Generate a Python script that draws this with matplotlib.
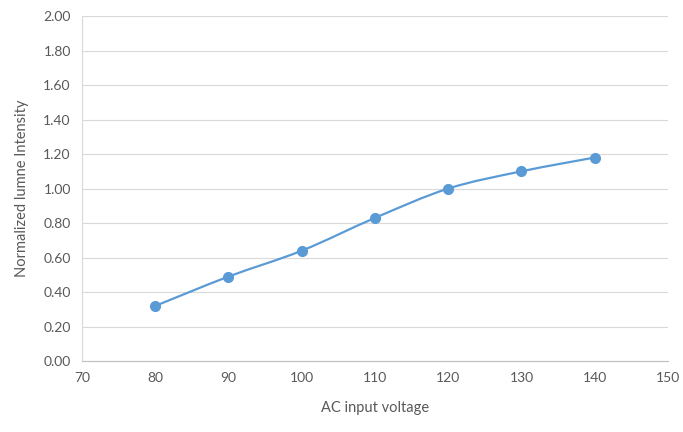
import numpy as np
import matplotlib.pyplot as plt
from matplotlib.path import Path
from matplotlib.patches import PathPatch

# values
voltage = [80, 90, 100, 110, 120, 130, 140]
intensity = [0.32, 0.49, 0.64, 0.83, 1.00, 1.10, 1.18]

blue = '#5B9BD5'
grey = '#595959'

plt.rcParams['font.family'] = ['Lato', 'DejaVu Sans']

fig = plt.figure(figsize=(6.83, 4.32), dpi=100)
ax = fig.add_axes([0.12, 0.164, 0.858, 0.799])

# Excel-like smoothed line: Catmull-Rom segments drawn as cubic Bezier curves
x = np.array(voltage, dtype=float)
y = np.array(intensity, dtype=float)
verts = [(x[0], y[0])]
codes = [Path.MOVETO]
for i in range(len(x) - 1):
    x0, y0 = (x[i-1], y[i-1]) if i > 0 else (x[i], y[i])
    x3, y3 = (x[i+2], y[i+2]) if i + 2 < len(x) else (x[i+1], y[i+1])
    c1 = (x[i] + (x[i+1] - x0) / 6, y[i] + (y[i+1] - y0) / 6)
    c2 = (x[i+1] - (x3 - x[i]) / 6, y[i+1] - (y3 - y[i]) / 6)
    verts += [c1, c2, (x[i+1], y[i+1])]
    codes += [Path.CURVE4] * 3
ax.add_patch(PathPatch(Path(verts, codes), facecolor='none', edgecolor=blue,
                       lw=1.6, zorder=3, capstyle='round'))
ax.plot(voltage, intensity, 'o', color=blue, ms=7, zorder=4)

ax.set_xlim(70, 150)
ax.set_ylim(0, 2.0)
ax.set_xticks(np.arange(70, 151, 10))
ax.set_yticks(np.arange(0, 2.01, 0.2))
ax.yaxis.set_major_formatter(plt.FormatStrFormatter('%.2f'))
ax.grid(axis='y', color='#D9D9D9', lw=0.8)
ax.set_axisbelow(True)
for s in ['top', 'right']:
    ax.spines[s].set_visible(False)
ax.spines['left'].set_color('#D9D9D9')
ax.spines['bottom'].set_color('#BFBFBF')
ax.tick_params(length=0, colors=grey, labelsize=10, pad=8)

ax.set_xlabel('AC input voltage', color=grey, fontsize=10.5, labelpad=12)
ax.set_ylabel('Normalized lumne Intensity', color=grey, fontsize=10.5, labelpad=10)

fig.savefig('out.png', dpi=100)
